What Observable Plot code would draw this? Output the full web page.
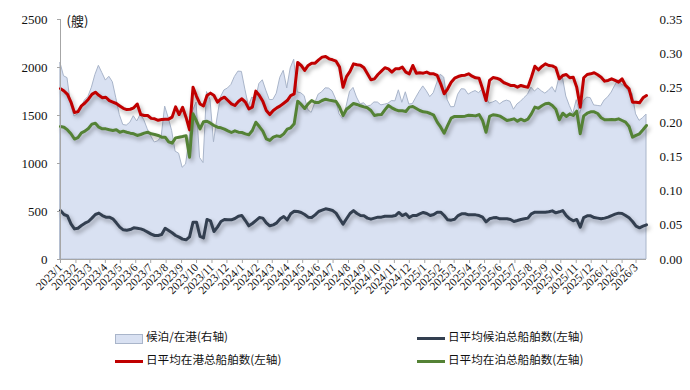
<!DOCTYPE html>
<html><head><meta charset="utf-8">
<script src="https://cdn.jsdelivr.net/npm/d3@7"></script>
<script src="https://cdn.jsdelivr.net/npm/@observablehq/plot@0.6"></script>
<style>
body{margin:0;background:#fff;}
#chart{position:relative;width:690px;height:390px;overflow:hidden;}
#chart svg{position:absolute;left:0;top:0;}
.lg{position:absolute;font-family:"Noto Sans CJK SC",sans-serif;font-size:11.6px;color:#111;line-height:1;white-space:nowrap;}
.sw{position:absolute;}
</style></head><body>
<div id="chart"></div>
<script>
// weekly observations starting 2023-01-01
const startDate = "2023-01-01";
const endDate = "2026-03-22";
const inPort = [1780,1755,1720,1640,1530,1540,1600,1630,1670,1720,1743,1710,1685,1690,1655,1640,1625,1600,1575,1562,1565,1580,1620,1510,1500,1500,1470,1465,1450,1458,1462,1462,1483,1590,1510,1585,1480,1350,1795,1700,1620,1600,1708,1733,1708,1639,1674,1691,1656,1622,1604,1646,1674,1639,1569,1587,1754,1708,1649,1552,1510,1552,1580,1600,1628,1656,1708,1726,2052,2021,1969,2021,2045,2045,2080,2108,2115,2090,2080,2066,2004,1795,1905,1960,2038,2028,2024,1997,1934,1872,1882,1927,1962,1997,1986,1952,1986,1986,2004,1952,1934,2021,1941,1945,1941,1952,1934,1934,1917,1830,1726,1778,1847,1889,1906,1917,1920,1934,1910,1893,1889,1778,1656,1865,1895,1889,1875,1844,1830,1813,1813,1795,1813,1802,1795,1899,2013,1976,2011,2038,2021,2017,1997,1882,1917,1927,1893,1899,1795,1587,1893,1927,1934,1945,1924,1899,1858,1865,1882,1865,1847,1882,1813,1778,1639,1639,1632,1684,1708];
const atBerth = [1385,1378,1350,1310,1255,1270,1320,1337,1365,1410,1420,1378,1361,1361,1351,1344,1351,1326,1337,1326,1316,1309,1292,1302,1316,1326,1309,1302,1292,1274,1274,1225,1212,1267,1274,1281,1290,1066,1517,1440,1361,1435,1440,1420,1396,1378,1372,1358,1340,1323,1340,1326,1323,1309,1299,1344,1430,1385,1337,1257,1240,1274,1288,1281,1309,1358,1372,1413,1649,1615,1573,1622,1656,1635,1635,1656,1670,1660,1653,1646,1587,1500,1565,1594,1625,1615,1601,1590,1580,1552,1500,1507,1510,1559,1604,1580,1562,1549,1549,1542,1587,1594,1573,1552,1538,1535,1521,1503,1431,1378,1316,1396,1472,1490,1490,1490,1493,1503,1500,1496,1510,1448,1326,1490,1508,1503,1493,1472,1448,1455,1465,1441,1462,1445,1462,1517,1587,1576,1601,1622,1628,1604,1566,1455,1524,1490,1517,1500,1545,1309,1496,1524,1538,1538,1521,1476,1455,1455,1458,1455,1465,1448,1431,1386,1274,1292,1309,1351,1396];
const waiting = [510,469,455,372,319,326,354,378,396,431,469,483,458,441,441,424,382,337,309,305,312,330,326,319,305,285,264,250,250,260,326,302,278,250,233,212,205,236,389,389,240,225,417,403,292,337,396,417,413,413,427,451,458,406,351,375,406,437,431,382,351,361,382,424,448,413,476,503,500,490,469,441,437,465,500,514,528,521,510,483,424,368,424,479,510,479,458,455,431,420,431,441,441,451,451,451,458,490,458,476,437,458,458,476,490,479,458,469,493,493,458,413,410,420,458,476,476,465,465,465,458,441,392,424,434,437,424,424,424,417,396,406,417,424,431,476,493,493,493,493,497,507,486,497,510,458,424,403,417,337,437,455,455,437,431,424,431,441,458,472,483,479,458,434,396,347,330,347,361];
const leftTicks = [0,500,1000,1500,2000,2500];
const rightTicks = [0,0.05,0.10,0.15,0.20,0.25,0.30,0.35];
const unitLabel = "(艘)";
const names = ["候泊/在港(右轴)","日平均候泊总船舶数(左轴)","日平均在港总船舶数(左轴)","日平均在泊总船舶数(左轴)"];
const colors = {area:"#d9e1f2", areaStroke:"#a9b5ca", waiting:"#333f50", inPort:"#c00000", atBerth:"#548235"};

const start = new Date(startDate), end = new Date(endDate);
const K = 2500 / 0.35;
const data = inPort.map((v, i) => ({
  date: d3.utcDay.offset(start, 7 * i),
  inPort: v, atBerth: atBerth[i], waiting: waiting[i],
  ratio: waiting[i] / v
}));
const monthTicks = d3.utcMonth.range(start, d3.utcDay.offset(new Date("2026-03-01"), 1));

const plot = Plot.plot({
  width: 690, height: 312,
  marginTop: 19, marginBottom: 53, marginLeft: 60, marginRight: 44,
  style: {fontFamily: '"Liberation Serif", "Times New Roman", serif', fontSize: "13px", color: "#111", background: "transparent"},
  x: {type: "utc", domain: [start, end]},
  y: {domain: [0, 2500]},
  marks: [
    Plot.areaY(data, {x: "date", y: d => d.ratio * K, fill: colors.area, stroke: colors.areaStroke, strokeWidth: 1}),
    Plot.lineY(data, {x: "date", y: "waiting", stroke: colors.waiting, strokeWidth: 3}),
    Plot.lineY(data, {x: "date", y: "inPort", stroke: colors.inPort, strokeWidth: 3}),
    Plot.lineY(data, {x: "date", y: "atBerth", stroke: colors.atBerth, strokeWidth: 3}),
    Plot.ruleY([0], {stroke: "#a6a6a6", strokeWidth: 1}),
    Plot.ruleX([start], {stroke: "#a6a6a6", strokeWidth: 1}),
    Plot.axisY({ticks: leftTicks, anchor: "left", tickSize: 3, tickPadding: 10, stroke: "#a6a6a6", fill: "#111", label: null, fontSize: 13, tickFormat: d => String(d)}),
    Plot.axisY({ticks: rightTicks.map(t => t * K), anchor: "right", tickSize: 0, tickPadding: 13, tickFormat: v => (v / K).toFixed(2), fill: "#111", label: null, fontSize: 13}),
    Plot.axisX({ticks: monthTicks, tickRotate: -45, tickSize: 4, tickPadding: 2, stroke: "#a6a6a6", fill: "#111", label: null, fontSize: 11.5,
      tickFormat: d => `${d.getUTCFullYear()}/${d.getUTCMonth() + 1}`}),
    Plot.text([unitLabel], {frameAnchor: "top-left", dx: 6, dy: -3, textAnchor: "start", fontFamily: '"Noto Sans CJK SC", sans-serif', fontSize: 13, fill: "#111"})
  ]
});
plot.querySelectorAll('g[aria-label="line"]').forEach(g => g.style.filter = "drop-shadow(2px 3px 2px rgba(0,0,0,0.32))");
const chart = document.getElementById("chart");
chart.appendChild(plot);

// legend
const items = [
  {name: names[0], type: "box", x: 115, y: 338},
  {name: names[1], type: "line", color: colors.waiting, x: 417, y: 338},
  {name: names[2], type: "line", color: colors.inPort, x: 115, y: 361},
  {name: names[3], type: "line", color: colors.atBerth, x: 417, y: 361}
];
for (const it of items) {
  const sw = document.createElement("div");
  sw.className = "sw";
  if (it.type === "box") {
    Object.assign(sw.style, {left: it.x + "px", top: (it.y - 4.5) + "px", width: "26px", height: "8px", background: colors.area, border: "1px solid " + colors.areaStroke});
  } else {
    Object.assign(sw.style, {left: it.x + "px", top: (it.y - 1.5) + "px", width: "28px", height: "3px", background: it.color});
  }
  chart.appendChild(sw);
  const t = document.createElement("div");
  t.className = "lg";
  t.textContent = it.name;
  Object.assign(t.style, {left: (it.x + 31) + "px", top: (it.y - 7) + "px"});
  chart.appendChild(t);
}
</script>
</body></html>
